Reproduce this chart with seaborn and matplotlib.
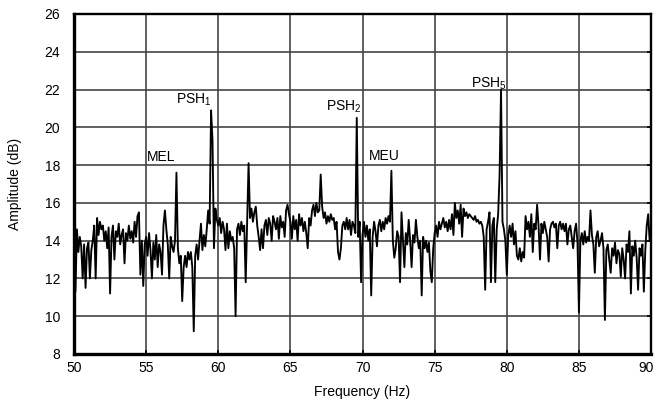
import numpy as np
import pandas as pd
import matplotlib
matplotlib.use("Agg")
import matplotlib.pyplot as plt
import matplotlib.transforms as mtransforms
import seaborn as sns

# frequency axis: 50.0 .. 90.0 Hz in 0.1 Hz steps
freq_start = 50.0
freq_step = 0.1

amp_50 = [14.0, 11.3, 14.6, 13.4, 14.2, 13.7, 12.0, 13.8, 11.5, 13.6]
amp_51 = [13.9, 12.0, 13.5, 14.0, 14.8, 12.0, 15.2, 14.3, 15.0, 14.6]
amp_52 = [14.8, 14.0, 14.5, 13.6, 14.7, 11.2, 14.2, 14.8, 13.0, 14.5]
amp_53 = [14.2, 14.9, 13.8, 14.3, 14.6, 12.8, 14.4, 14.0, 14.8, 14.1]
amp_54 = [14.5, 13.9, 15.0, 14.2, 15.3, 15.5, 12.2, 14.0, 11.6, 13.8]
amp_55 = [14.2, 13.2, 14.4, 13.5, 12.0, 13.9, 13.0, 14.3, 12.6, 13.8]
amp_56 = [13.4, 12.2, 14.8, 15.6, 14.6, 13.8, 12.0, 14.2, 13.7, 13.4]
amp_57 = [14.0, 17.6, 13.6, 12.8, 13.2, 10.8, 12.6, 13.2, 12.6, 13.4]
amp_58 = [13.0, 13.4, 12.6, 9.2, 13.2, 13.8, 13.0, 14.0, 14.9, 13.5]
amp_59 = [14.3, 13.7, 14.6, 15.6, 14.9, 20.9, 19.3, 13.6, 15.7, 15.1]
amp_60 = [14.8, 15.2, 14.4, 15.0, 14.6, 13.5, 14.9, 13.6, 14.5, 14.0]
amp_61 = [14.2, 13.6, 10.0, 14.6, 14.9, 14.3, 15.0, 14.5, 14.8, 11.8]
amp_62 = [14.9, 18.1, 15.2, 15.7, 15.0, 15.5, 15.8, 14.8, 14.2, 13.5]
amp_63 = [14.6, 13.6, 14.8, 15.1, 14.3, 15.2, 14.9, 14.0, 15.3, 15.0]
amp_64 = [14.6, 15.2, 14.1, 15.3, 14.7, 15.0, 14.2, 15.6, 15.9, 15.4]
amp_65 = [15.0, 14.1, 15.3, 14.6, 15.1, 14.0, 15.4, 14.8, 15.2, 14.5]
amp_66 = [15.0, 14.4, 13.6, 15.2, 14.8, 15.6, 15.9, 15.3, 16.0, 15.5]
amp_67 = [15.6, 17.5, 15.8, 15.2, 15.5, 14.9, 15.3, 15.0, 15.4, 15.1]
amp_68 = [15.2, 14.6, 15.0, 13.4, 13.0, 13.6, 14.8, 15.0, 14.6, 15.2]
amp_69 = [14.6, 15.1, 14.3, 15.0, 14.8, 14.4, 20.5, 14.2, 15.0, 11.8]
amp_70 = [14.3, 15.0, 14.2, 14.8, 14.0, 14.6, 11.1, 14.2, 15.0, 14.5]
amp_71 = [13.7, 14.8, 15.1, 14.5, 15.0, 14.6, 15.2, 14.9, 15.3, 15.0]
amp_72 = [17.7, 14.0, 13.1, 13.6, 14.5, 14.2, 11.8, 15.5, 14.0, 12.6]
amp_73 = [14.4, 13.8, 15.1, 14.0, 12.6, 14.3, 13.9, 15.1, 14.2, 13.6]
amp_74 = [14.0, 11.1, 14.2, 13.6, 14.0, 13.4, 13.9, 12.4, 11.8, 13.6]
amp_75 = [14.4, 14.8, 14.2, 15.0, 14.6, 14.9, 15.2, 14.7, 15.0, 14.5]
amp_76 = [15.1, 14.6, 15.4, 14.3, 16.0, 15.2, 15.6, 14.9, 15.9, 14.2]
amp_77 = [15.7, 15.3, 15.5, 15.2, 15.4, 15.3, 15.2, 15.1, 15.3, 15.0]
amp_78 = [15.1, 14.9, 15.0, 14.8, 14.2, 11.4, 14.6, 15.0, 15.5, 11.8]
amp_79 = [14.8, 15.2, 11.8, 14.6, 15.4, 17.5, 22.0, 15.0, 14.6, 14.0]
amp_80 = [12.2, 14.3, 14.8, 14.2, 14.9, 13.8, 14.5, 13.2, 13.0, 13.6]
amp_81 = [12.9, 13.4, 13.1, 15.3, 14.6, 15.0, 14.2, 15.4, 13.4, 14.9]
amp_82 = [14.6, 15.9, 14.8, 13.0, 14.9, 14.4, 15.0, 14.6, 14.2, 12.9]
amp_83 = [14.6, 14.9, 15.0, 14.7, 14.9, 13.6, 14.8, 15.0, 14.6, 14.9]
amp_84 = [14.5, 14.9, 13.8, 14.6, 14.8, 14.2, 13.6, 14.5, 14.9, 13.9]
amp_85 = [10.2, 14.0, 14.4, 13.8, 14.5, 13.9, 14.2, 14.0, 15.6, 14.3]
amp_86 = [13.8, 12.3, 14.2, 14.5, 13.7, 14.0, 14.4, 13.6, 9.8, 13.5]
amp_87 = [13.8, 13.0, 12.3, 13.6, 13.2, 13.9, 12.8, 13.5, 13.3, 12.1]
amp_88 = [13.6, 13.0, 12.0, 13.8, 13.4, 14.5, 11.2, 13.7, 13.2, 14.0]
amp_89 = [13.1, 11.4, 13.6, 13.2, 13.8, 11.3, 13.5, 14.8, 15.4, 14.0]
amp_90 = [14.0]

amplitude = (amp_50 + amp_51 + amp_52 + amp_53 + amp_54 + amp_55 + amp_56 + amp_57
             + amp_58 + amp_59 + amp_60 + amp_61 + amp_62 + amp_63 + amp_64 + amp_65
             + amp_66 + amp_67 + amp_68 + amp_69 + amp_70 + amp_71 + amp_72 + amp_73
             + amp_74 + amp_75 + amp_76 + amp_77 + amp_78 + amp_79 + amp_80 + amp_81
             + amp_82 + amp_83 + amp_84 + amp_85 + amp_86 + amp_87 + amp_88 + amp_89
             + amp_90)
frequency = [round(freq_start + i * freq_step, 2) for i in range(len(amplitude))]

x_ticks = [50, 55, 60, 65, 70, 75, 80, 85, 90]
y_ticks = [8, 10, 12, 14, 16, 18, 20, 22, 24, 26]

labels = ["MEL", r"$\mathregular{PSH_1}$", r"$\mathregular{PSH_2}$", "MEU", r"$\mathregular{PSH_5}$"]
label_x = [55.05, 57.05, 67.5, 70.45, 77.55]
label_y = [18.2, 21.25, 20.9, 18.25, 22.1]

df = pd.DataFrame({"Frequency (Hz)": frequency, "Amplitude (dB)": amplitude})

sns.set_theme(style="white")
plt.rcParams["font.family"] = ["Liberation Sans", "DejaVu Sans"]
plt.rcParams["mathtext.fontset"] = "custom"
plt.rcParams["mathtext.rm"] = "Liberation Sans"

fig = plt.figure(figsize=(6.55, 4.03), dpi=100)
ax = fig.add_axes([0.113, 0.1216, 0.881, 0.8437])

sns.lineplot(data=df, x="Frequency (Hz)", y="Amplitude (dB)", ax=ax,
             color="black", linewidth=1.35, zorder=3)

ax.set_xlim(50, 90)
ax.set_ylim(8, 26)
ax.set_xticks(x_ticks)
ax.set_yticks(y_ticks)
ax.grid(True, color="#444444", linewidth=1.2, zorder=1)
ax.set_axisbelow(True)

for side in ["left", "bottom"]:
    ax.spines[side].set_linewidth(2.4)
    ax.spines[side].set_color("black")
for side in ["top", "right"]:
    ax.spines[side].set_linewidth(1.7)
    ax.spines[side].set_color("black")

ax.tick_params(axis="both", direction="in", length=3, width=1.2, color="black",
               labelsize=10, labelcolor="black", right=True, bottom=True,
               left=False)
ax.tick_params(axis="y", pad=10)
ax.tick_params(axis="x", pad=5)
ax.set_xlabel("Frequency (Hz)", fontsize=10, color="black", labelpad=7)
ax.set_ylabel("Amplitude (dB)", fontsize=10, color="black", labelpad=16)

# nudge the last x tick label inward so it stays inside the figure
last = ax.get_xticklabels()[-1]
last.set_transform(last.get_transform() + mtransforms.ScaledTranslation(-5 / 100, 0, fig.dpi_scale_trans))

for t, lx, ly in zip(labels, label_x, label_y):
    ax.text(lx, ly, t, fontsize=10, color="black", ha="left", va="baseline", zorder=4)

fig.savefig("out.png", dpi=100)
